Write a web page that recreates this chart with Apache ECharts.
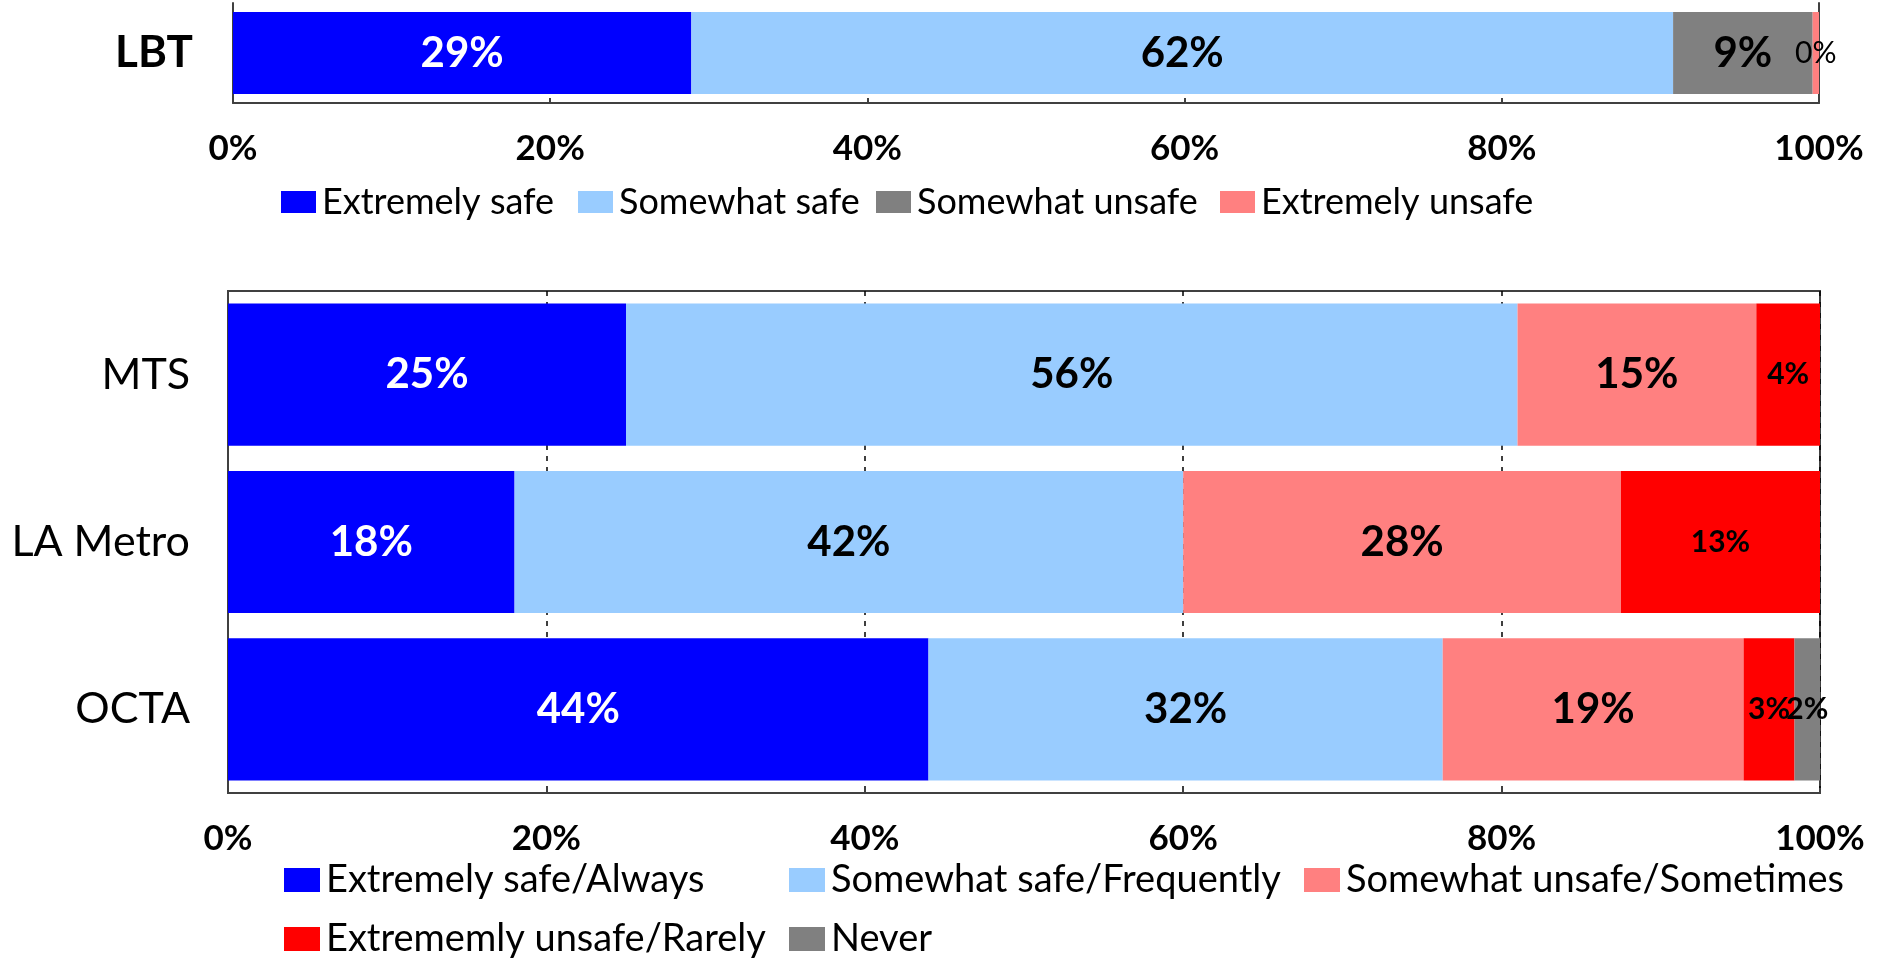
<!DOCTYPE html>
<html><head><meta charset="utf-8">
<script src="https://cdn.jsdelivr.net/npm/echarts@6/dist/echarts.min.js"></script>
<style>html,body{margin:0;padding:0;background:#fff}#c{width:1885px;height:958px}</style>
</head><body><div id="c"></div>
<script>
// ---------- DATA ----------
const topCategories = ['LBT'];
const topSeriesNames = ['Extremely safe', 'Somewhat safe', 'Somewhat unsafe', 'Extremely unsafe'];
const topExtremelySafe = [28.9];
const topSomewhatSafe = [61.9];
const topSomewhatUnsafe = [8.8];
const topExtremelyUnsafe = [0.4];

const bottomCategories = ['MTS', 'LA Metro', 'OCTA'];
const bottomSeriesNames = ['Extremely safe/Always', 'Somewhat safe/Frequently', 'Somewhat unsafe/Sometimes', 'Extrememly unsafe/Rarely', 'Never'];
const bottomAlways = [25, 18, 44];
const bottomFrequently = [56, 42, 32.3];
const bottomSometimes = [15, 27.5, 18.9];
const bottomRarely = [4, 12.5, 3.2];
const bottomNever = [null, null, 1.6];

const axisMin = 0, axisMax = 100, axisStep = 20;

// ---------- STYLE ----------
const FONT = 'Lato, "Open Sans", sans-serif';
const LINE = '#404040';
const C_BLUE = '#0000FF', C_LBLUE = '#99CCFF', C_GRAY = '#808080', C_SALMON = '#FF8080', C_RED = '#FF0000';

const chart = echarts.init(document.getElementById('c'), null, {renderer: 'canvas'});

const fmt = p => Math.round(p.value) + '%';
function lab(color, size, weight) {
  return {show: true, position: 'inside', formatter: fmt, color: color, fontFamily: FONT,
          fontSize: size, fontWeight: weight};
}
function bar(name, data, color, label, xi, yi, stack, gap) {
  return {type: 'bar', name: name, data: data, stack: stack, xAxisIndex: xi, yAxisIndex: yi,
          barCategoryGap: gap, itemStyle: {color: color}, label: label, emphasis: {disabled: true}};
}

const topSeriesData = [topExtremelySafe, topSomewhatSafe, topSomewhatUnsafe, topExtremelyUnsafe];
const topColors = [C_BLUE, C_LBLUE, C_GRAY, C_SALMON];
const topLabels = [lab('#fff', 42, 'bold'), lab('#000', 42, 'bold'), lab('#000', 42, 'bold'), lab('#000', 30, 'normal')];

const botSeriesData = [bottomAlways, bottomFrequently, bottomSometimes, bottomRarely, bottomNever];
const botColors = [C_BLUE, C_LBLUE, C_SALMON, C_RED, C_GRAY];
const botLabels = [lab('#fff', 42, 'bold'), lab('#000', 42, 'bold'), lab('#000', 42, 'bold'), lab('#000', 30, 'bold'), lab('#000', 30, 'bold')];

const series = [];
topSeriesNames.forEach((n, i) => series.push(bar(n, topSeriesData[i], topColors[i], topLabels[i], 0, 0, 'top', '18%')));
bottomSeriesNames.forEach((n, i) => series.push(bar(n, botSeriesData[i], botColors[i], botLabels[i], 1, 2, 'bottom', '15%')));

// legend layout: one legend component per item so each can be placed
const topLegendX = [281, 578, 876, 1220];
const botLegendPos = [[284, 880], [789, 880], [1304, 880], [284, 939], [789, 939]];
const legends = [];
function legendItem(name, x, cy, iw, ih, fs) {
  return {data: [name], left: x, top: cy - 20, padding: 0, itemWidth: iw, itemHeight: ih, itemGap: 0,
          icon: 'rect', selectedMode: false,
          textStyle: {fontFamily: FONT, fontSize: fs, color: '#000', lineHeight: 40, padding: [0, 0, 0, 1]}};
}
topSeriesNames.forEach((n, i) => legends.push(legendItem(n, topLegendX[i], 202, 35, 22, 36)));
bottomSeriesNames.forEach((n, i) => legends.push(legendItem(n, botLegendPos[i][0], botLegendPos[i][1], 36, 24, 38)));

const xAxisCommon = {
  type: 'value', min: axisMin, max: axisMax, interval: axisStep,
  axisLabel: {formatter: '{value}%', fontFamily: FONT, fontSize: 35, fontWeight: 'bold', color: '#000', margin: 28},
  axisLine: {show: true, lineStyle: {color: LINE, width: 2}},
  axisTick: {show: true, inside: true, length: 5, lineStyle: {color: LINE, width: 2}}
};

const option = {
  backgroundColor: '#fff',
  animation: false,
  grid: [
    {left: 233, width: 1586, top: 3, height: 100, containLabel: false},
    {left: 228, width: 1592, top: 291, height: 502, containLabel: false, show: true, borderColor: LINE, borderWidth: 2}
  ],
  xAxis: [
    Object.assign({gridIndex: 0, splitLine: {show: false}}, xAxisCommon),
    Object.assign({gridIndex: 1, splitLine: {show: true, lineStyle: {color: '#000', width: 1.5, type: [5, 6]}}}, xAxisCommon)
  ],
  yAxis: [
    {type: 'category', gridIndex: 0, data: topCategories, inverse: true,
     axisLine: {show: true, lineStyle: {color: LINE, width: 2}}, axisTick: {show: false},
     axisLabel: {fontFamily: FONT, fontSize: 44, fontWeight: 'bold', color: '#000', margin: 40}},
    {type: 'category', gridIndex: 0, data: topCategories, position: 'right',
     axisLine: {show: true, lineStyle: {color: LINE, width: 2}}, axisTick: {show: false}, axisLabel: {show: false}},
    {type: 'category', gridIndex: 1, data: bottomCategories, inverse: true,
     axisLine: {show: true, lineStyle: {color: LINE, width: 2}}, axisTick: {show: false},
     axisLabel: {fontFamily: FONT, fontSize: 43, color: '#000', margin: 38}}
  ],
  legend: legends,
  series: series
};
chart.setOption(option);
</script>
</body></html>
